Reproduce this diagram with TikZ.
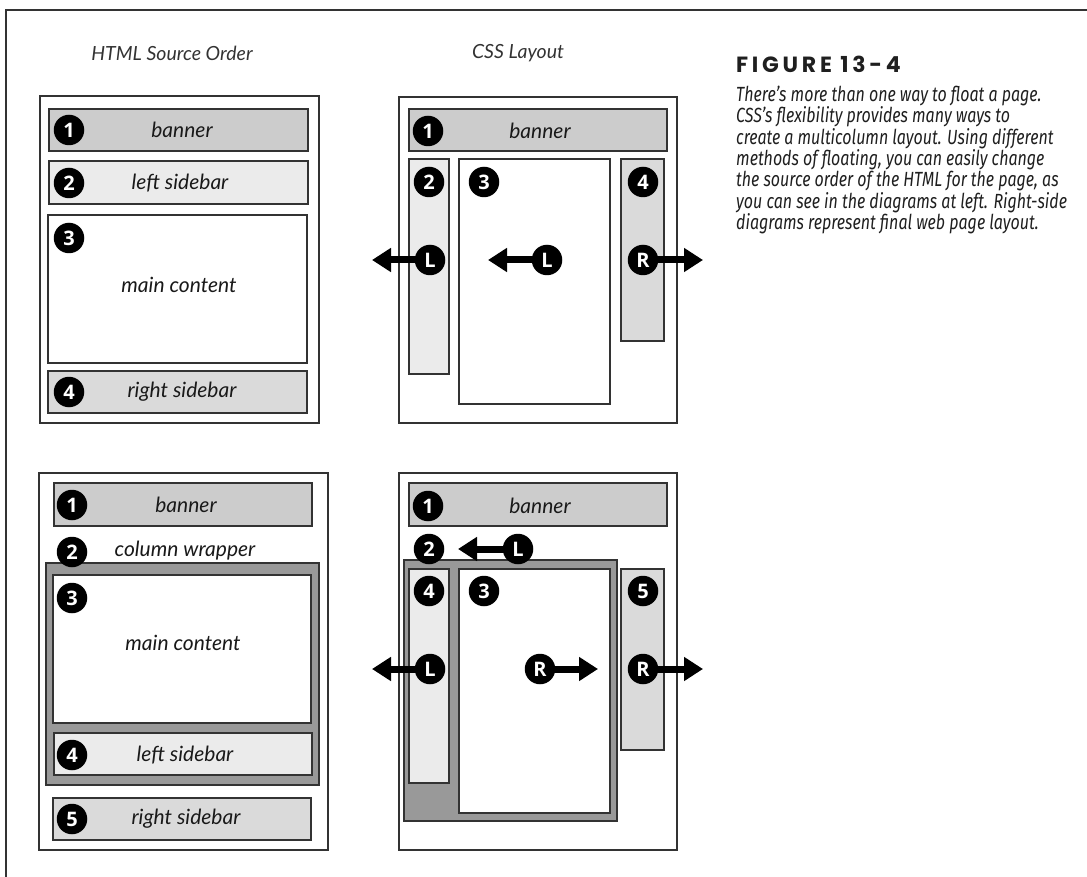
\documentclass[tikz,border=0pt]{standalone}
\usepackage{fontspec}
\usetikzlibrary{arrows.meta}
\newfontfamily\labfont{Lato}
\newfontfamily\capfont[FakeStretch=0.78]{Fira Sans}
\newfontfamily\figfont[LetterSpace=17]{Poppins}
\newfontfamily\numfont{Open Sans}
\definecolor{lineC}{HTML}{333333}
\definecolor{bannerC}{HTML}{CCCCCC}
\definecolor{lsideC}{HTML}{EBEBEB}
\definecolor{rsideC}{HTML}{DADADA}
\definecolor{wrapC}{HTML}{999999}
\newcommand\mkbox[6]{\node[#2, minimum width=#5-#3, minimum height=#6-#4, inner sep=0pt, outer sep=0pt] (#1) at ({(#3+#5)/2},{(#4+#6)/2}) {};}
\tikzset{
  frameline/.style={draw=lineC, line width=1.4pt},
  outerbox/.style={draw=lineC, line width=1.2pt, fill=white},
  areabox/.style={draw=lineC, line width=1.3pt},
  num/.style={circle, fill=black, text=white, minimum size=30.5pt, inner sep=0pt, font=\numfont\bfseries\fontsize{20}{20}\selectfont},
  lab/.style={font=\labfont\itshape\fontsize{21}{23}\selectfont, text=black!90, inner sep=0pt},
  title/.style={font=\labfont\itshape\fontsize{19.5}{22}\selectfont, text=black!80, inner sep=0pt},
  floatarrow/.style={line width=7pt, shorten <=-3pt, -{Triangle[length=19pt,width=23pt]}},
}
\begin{document}
\begin{tikzpicture}[x=1pt,y=-1pt]
\useasboundingbox (0,0) rectangle (1087,877);
\draw[frameline] (6,877) -- (6,10) -- (1087,10);

% titles
\node[title] (t1) at (172,53) {HTML Source Order};
\node[title] (t2) at (518,53) {CSS Layout};

% caption
\node[anchor=west, inner sep=0pt, font=\figfont\bfseries\fontsize{22}{22}\selectfont, text=black!88] (fig) at (736,64) {FIGURE 13-4};
\node[anchor=north west, inner sep=0pt, align=left, text=black!88,
      font=\capfont\itshape\fontsize{20.5}{21.3}\selectfont] (cap) at (736,86)
 {There’s more than one way to float a page.\\
  CSS’s flexibility provides many ways to\\
  create a multicolumn layout. Using different\\
  methods of floating, you can easily change\\
  the source order of the HTML for the page, as\\
  you can see in the diagrams at left. Right-side\\
  diagrams represent final web page layout.};

% ---------- top left: HTML source order ----------
\mkbox{A}{outerbox}{40}{96}{319}{423}
\mkbox{Aban}{areabox, fill=bannerC}{49}{109}{308}{151}
\mkbox{Aleft}{areabox, fill=lsideC}{49}{161}{308}{204}
\mkbox{Amain}{areabox, fill=white}{48}{215}{307}{363}
\mkbox{Aright}{areabox, fill=rsideC}{48}{371}{307}{413}
\node[num] (A1) at (69,130) {1};
\node[num] (A2) at (69,183) {2};
\node[num] (A3) at (69,238) {3};
\node[num] (A4) at (69,392) {4};
\node[lab] (Atb) at (182,130) {banner};
\node[lab] (Atl) at (180,183) {left sidebar};
\node[lab] (Atm) at (179,285) {main content};
\node[lab] (Atr) at (182,392) {right sidebar};

% ---------- top right: CSS layout ----------
\mkbox{B}{outerbox}{399}{97}{677}{423}
\mkbox{Bban}{areabox, fill=bannerC}{409}{109}{667}{151}
\mkbox{Bleft}{areabox, fill=lsideC}{409}{159}{449}{374}
\mkbox{Bmain}{areabox, fill=white}{459}{159}{610}{404}
\mkbox{Bright}{areabox, fill=rsideC}{621}{159}{664}{341}
\node[num] (B1) at (428,131) {1};
\node[lab] (Btb) at (540,131) {banner};
\node[num] (B2) at (429,182) {2};
\node[num] (B3) at (484,182) {3};
\node[num] (B4) at (643,182) {4};
\coordinate (BLtip) at (372,260);
\coordinate (BMtip) at (488,260);
\coordinate (BRtip) at (703,260);
\node[num] (BL) at (430,260) {L};
\node[num] (BM) at (547,260) {L};
\node[num] (BR) at (643,260) {R};
\draw[floatarrow] (BL) -- (BLtip);
\draw[floatarrow] (BM) -- (BMtip);
\draw[floatarrow] (BR) -- (BRtip);

% ---------- bottom left: HTML source order ----------
\mkbox{C}{outerbox}{39}{473}{328}{850}
\mkbox{Cban}{areabox, fill=bannerC}{54}{483}{312}{526}
\mkbox{Cwrap}{areabox, fill=wrapC}{46}{563}{319}{785}
\mkbox{Cmain}{areabox, fill=white}{53}{575}{311}{723}
\mkbox{Cleft}{areabox, fill=lsideC}{54}{733}{312}{775}
\mkbox{Cright}{areabox, fill=rsideC}{53}{798}{311}{840}
\node[num] (C1) at (72,505) {1};
\node[num] (C2) at (72,552) {2};
\node[num] (C3) at (72,598) {3};
\node[num] (C4) at (72,755) {4};
\node[num] (C5) at (72,819) {5};
\node[lab] (Ctb) at (186,505) {banner};
\node[lab] (Ctw) at (185,551) {column wrapper};
\node[lab] (Ctm) at (183,643) {main content};
\node[lab] (Ctl) at (185,755) {left sidebar};
\node[lab] (Ctr) at (186,819) {right sidebar};

% ---------- bottom right: CSS layout ----------
\mkbox{D}{outerbox}{399}{473}{677}{850}
\mkbox{Dban}{areabox, fill=bannerC}{409}{483}{667}{526}
\mkbox{Dwrap}{areabox, fill=wrapC}{404}{560}{617}{821}
\mkbox{Dleft}{areabox, fill=lsideC}{409}{569}{449}{783}
\mkbox{Dmain}{areabox, fill=white}{459}{569}{610}{813}
\mkbox{Dright}{areabox, fill=rsideC}{621}{569}{664}{750}
\node[num] (D1) at (428,506) {1};
\node[lab] (Dtb) at (540,506) {banner};
\coordinate (DWtip) at (458,549);
\coordinate (DLtip) at (372,669);
\coordinate (DMtip) at (598,669);
\coordinate (DRtip) at (703,669);
\node[num] (DW) at (518,549) {L};
\draw[floatarrow] (DW) -- (DWtip);
\node[num] (D2) at (429,549) {2};
\node[num] (D4) at (429,591) {4};
\node[num] (D3) at (484,591) {3};
\node[num] (D5) at (643,591) {5};
\node[num] (DL) at (430,669) {L};
\node[num] (DM) at (540,669) {R};
\node[num] (DR) at (643,669) {R};
\draw[floatarrow] (DL) -- (DLtip);
\draw[floatarrow] (DM) -- (DMtip);
\draw[floatarrow] (DR) -- (DRtip);
\end{tikzpicture}
\end{document}
